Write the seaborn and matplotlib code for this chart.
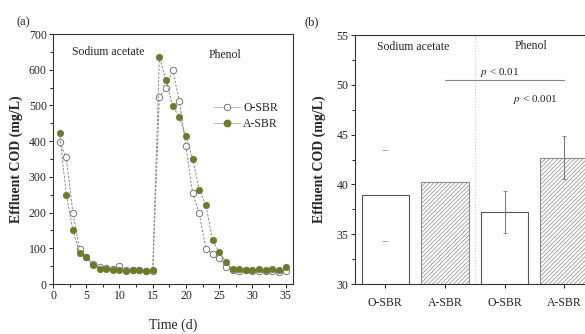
import numpy as np
import pandas as pd
import matplotlib
matplotlib.use('Agg')
import matplotlib.pyplot as plt
from matplotlib.lines import Line2D
from matplotlib.ticker import MultipleLocator
import seaborn as sns

# ---- data ----
days = list(range(1, 36))
o_sbr = [397, 355, 198, 99, 75, 55, 48, 45, 42, 51, 38, 40, 38, 37, 36,
         525, 548, 600, 512, 386, 254, 198, 98, 85, 73, 47, 40, 37, 38, 37,
         36, 36, 37, 35, 36]
a_sbr = [422, 250, 150, 87, 76, 54, 42, 42, 40, 40, 36, 38, 38, 37, 38,
         636, 570, 499, 467, 414, 351, 264, 221, 122, 89, 63, 42, 42, 40, 40,
         42, 40, 42, 40, 47]

bar_labels = ['O-SBR', 'A-SBR', 'O-SBR', 'A-SBR']
bar_ids = ['SA O-SBR', 'SA A-SBR', 'Ph O-SBR', 'Ph A-SBR']
bar_means = [38.9, 40.2, 37.2, 42.7]
bar_errs = [4.6, 0.0, 2.1, 2.2]

OLIVE = '#6b7a2b'

sns.set_style('ticks')
plt.rcParams['font.family'] = ['Liberation Serif', 'DejaVu Serif']
plt.rcParams['mathtext.fontset'] = 'stix'
plt.rcParams['hatch.linewidth'] = 0.5
plt.rcParams['axes.edgecolor'] = '#333333'
plt.rcParams['axes.linewidth'] = 0.8

fig = plt.figure(figsize=(5.85, 3.34), dpi=100)
ax1 = fig.add_axes([0.0906, 0.1497, 0.4103, 0.7483])
ax2 = fig.add_axes([0.6068, 0.1497, 0.4085, 0.7453])

# ---- (a) time course ----
df = pd.DataFrame({'day': days, 'O-SBR': o_sbr, 'A-SBR': a_sbr})
sns.lineplot(data=df, x='day', y='O-SBR', ax=ax1, color='#8a8a8a', lw=0.7,
             linestyle=(0, (2.5, 1.5)), marker='o', markersize=4.6,
             markerfacecolor='white', markeredgecolor='#777777',
             markeredgewidth=0.7)
sns.lineplot(data=df, x='day', y='A-SBR', ax=ax1, color='#8a8a8a', lw=0.7,
             linestyle=(0, (2.5, 1.5)), marker='o', markersize=4.6,
             markerfacecolor=OLIVE, markeredgecolor=OLIVE,
             markeredgewidth=0.5)
ax1.set_xlim(0, 36.1)
ax1.set_ylim(0, 700)
ax1.xaxis.set_major_locator(MultipleLocator(5))
ax1.xaxis.set_minor_locator(MultipleLocator(2.5))
ax1.yaxis.set_major_locator(MultipleLocator(100))
ax1.yaxis.set_minor_locator(MultipleLocator(50))
ax1.tick_params(which='both', direction='out', labelsize=8.5, length=3,
                width=0.7, pad=1.5)
ax1.tick_params(which='minor', length=2)
ax1.set_xlabel('Time (d)', fontsize=10, labelpad=12)
ax1.set_ylabel('Effluent COD (mg/L)', fontsize=10, fontweight='bold',
               labelpad=4)
ax1.text(2.9, 651, 'Sodium acetate', fontsize=8.5, va='center')
ax1.text(25.9, 640, 'Phenol', fontsize=8.5, va='center', ha='center')
handles = [
    Line2D([], [], color='#bbbbbb', lw=0.7, marker='o', markersize=4.6,
           markerfacecolor='white', markeredgecolor='#777777',
           markeredgewidth=0.7),
    Line2D([], [], color='#bbbbbb', lw=0.7, marker='o', markersize=4.6,
           markerfacecolor=OLIVE, markeredgecolor=OLIVE),
]
ax1.legend(handles, ['O-SBR', 'A-SBR'], loc='upper left',
           bbox_to_anchor=(0.625, 0.77), frameon=False, fontsize=8.5,
           handlelength=2.2, handletextpad=0.3, labelspacing=0.35)
for s in ax1.spines.values():
    s.set_visible(True)

# ---- (b) bar chart ----
sns.barplot(x=bar_ids, y=bar_means, ax=ax2, width=0.8, color='white',
            edgecolor='#555555', linewidth=0.8, errorbar=None)
for i, p in enumerate(ax2.patches):
    p.set_facecolor('white')
    if i % 2 == 1:
        p.set_hatch('////////')
        p.set_edgecolor('#8c8c8c')
xs = np.arange(len(bar_means))
for i in range(len(bar_means)):
    if bar_errs[i] <= 0:
        continue
    if i == 0:
        # only the caps show in the reference for this bar
        eb = ax2.errorbar(xs[i], bar_means[i], yerr=bar_errs[i], fmt='none',
                          ecolor='#aaaaaa', elinewidth=0, capsize=2,
                          capthick=0.7, zorder=5)
        eb[2][0].set_visible(False)
    else:
        ax2.errorbar(xs[i], bar_means[i], yerr=bar_errs[i], fmt='none',
                     ecolor='#777777', elinewidth=0.7, capsize=1.2,
                     capthick=0.6, zorder=5)
ax2.axvline(1.5, color='#cccccc', lw=0.8, ls=':')
ax2.plot([1, 3], [50.5, 50.5], color='#888888', lw=0.8)
ax2.text(1.92, 51.2, r'$p$ < 0.01', fontsize=8, ha='center', va='center')
ax2.text(2.51, 48.5, r'$p$ < 0.001', fontsize=8, ha='center', va='center')
ax2.text(0.475, 53.83, 'Sodium acetate', fontsize=8.5, ha='center',
         va='center')
ax2.text(2.45, 53.9, 'Phenol', fontsize=8.5, ha='center', va='center')
ax2.set_xlim(-0.51, 3.5)
ax2.set_ylim(30, 55)
ax2.set_xticks(xs)
ax2.set_xticklabels(bar_labels)
ax2.yaxis.set_major_locator(MultipleLocator(5))
ax2.yaxis.set_minor_locator(MultipleLocator(2.5))
ax2.tick_params(which='both', direction='out', labelsize=8.5, length=3,
                width=0.7, pad=1.5)
ax2.tick_params(axis='x', pad=6)
ax2.tick_params(which='minor', length=2)
ax2.set_ylabel('Effluent COD (mg/L)', fontsize=10, fontweight='bold',
               labelpad=8)
for s in ax2.spines.values():
    s.set_visible(True)

fig.text(0.029, 0.934, '(a)', fontsize=9, va='center')
fig.text(0.521, 0.934, '(b)', fontsize=9, va='center')

fig.savefig('out.png', dpi=100)
